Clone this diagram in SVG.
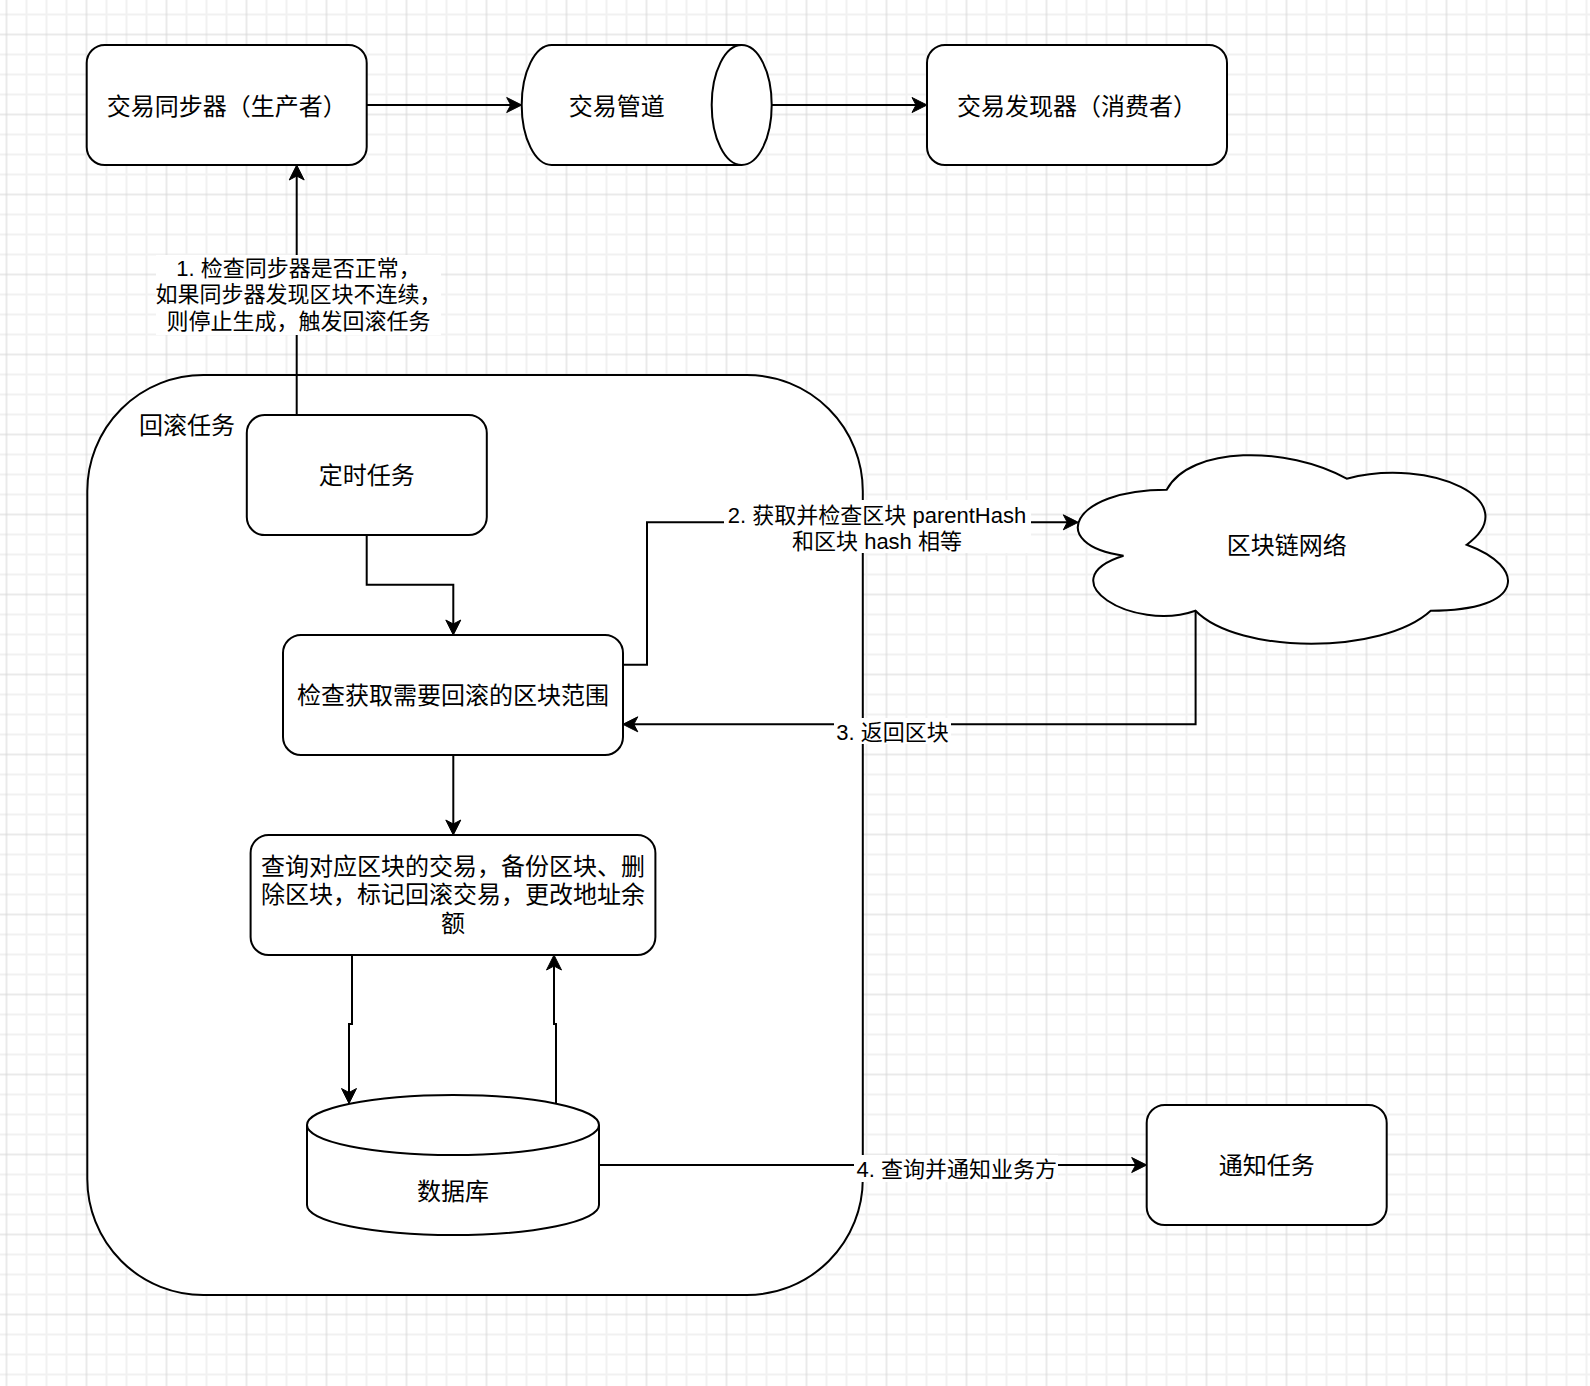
<svg xmlns="http://www.w3.org/2000/svg" width="1590" height="1386" viewBox="0 0 1590 1386">
  <defs>
    <pattern id="grid" x="-3.5" y="24.5" width="80" height="80" patternUnits="userSpaceOnUse">
      <rect width="80" height="80" fill="#ffffff"/>
      <path d="M30 0V80M50 0V80M70 0V80M0 30H80M0 50H80M0 70H80" stroke="#f1f1f1" stroke-width="2"/>
      <path d="M10 0V80M0 10H80" stroke="#d6d6d6" stroke-width="1"/>
    </pattern>
    <marker id="arr" markerUnits="userSpaceOnUse" viewBox="-17 -9 18 18" markerWidth="18" markerHeight="18" refX="-10" refY="0" orient="auto" overflow="visible">
      <path d="M0,0 L-15,-7.5 L-11,0 L-15,7.5 Z" fill="#000" stroke="#000" stroke-width="1" stroke-linejoin="miter"/>
    </marker>
    <style>
      .node { fill: #ffffff; stroke: #000000; stroke-width: 2; }
      .edge { fill: none; stroke: #000000; stroke-width: 2; marker-end: url(#arr); }
      .plain { fill: none; stroke: #000000; stroke-width: 2; }
      .lblbg { fill: #ffffff; stroke: none; }
      .t24 { font-family: "Liberation Sans", "Noto Sans CJK SC", sans-serif; font-size: 24px; fill: #000; text-anchor: middle; }
      .t22 { font-family: "Liberation Sans", "Noto Sans CJK SC", sans-serif; font-size: 22px; fill: #000; text-anchor: middle; }
    </style>
  </defs>

  <rect x="0" y="0" width="1590" height="1386" fill="url(#grid)"/>

  <g id="rollback-container">
    <rect class="node" x="87.3" y="375" width="775.5" height="920" rx="116" ry="116"/>
    <text class="t24" x="139" y="434" style="text-anchor:start">回滚任务</text>
  </g>

  <g id="tx-sync">
    <rect class="node" x="86.7" y="45" width="280" height="120" rx="18" ry="18"/>
    <text class="t24" x="226.7" y="114.5">交易同步器（生产者）</text>
  </g>

  <g id="tx-pipe">
    <path class="node" d="M551.7,45 L741.7,45 A30,60 0 0 1 741.7,165 L551.7,165 A30,60 0 0 1 551.7,45 Z"/>
    <path class="plain" d="M741.7,45 A30,60 0 0 0 741.7,165"/>
    <text class="t24" x="616.7" y="114.5">交易管道</text>
  </g>

  <g id="tx-discover">
    <rect class="node" x="927" y="45" width="300" height="120" rx="18" ry="18"/>
    <text class="t24" x="1077" y="114.5">交易发现器（消费者）</text>
  </g>

  <g id="timer-task">
    <rect class="node" x="246.8" y="415" width="240" height="120" rx="18" ry="18"/>
    <text class="t24" x="366.8" y="484">定时任务</text>
  </g>

  <g id="check-range">
    <rect class="node" x="283" y="635" width="340" height="120" rx="18" ry="18"/>
    <text class="t24" x="453" y="704">检查获取需要回滚的区块范围</text>
  </g>

  <g id="query-rollback">
    <rect class="node" x="250.6" y="835" width="404.8" height="120" rx="18" ry="18"/>
    <text class="t24" x="453" y="874.6">查询对应区块的交易，备份区块、删</text>
    <text class="t24" x="453" y="903.4">除区块，标记回滚交易，更改地址余</text>
    <text class="t24" x="453" y="932.2">额</text>
  </g>

  <g id="database">
    <path class="node" d="M307,1125 A146,30 0 0 1 599,1125 L599,1205 A146,30 0 0 1 307,1205 Z"/>
    <path class="plain" d="M307,1125 A146,30 0 0 0 599,1125"/>
    <text class="t24" x="453" y="1200">数据库</text>
  </g>

  <g id="blockchain">
    <path class="node" d="M1166.7,489.7 C1070.7,489.7 1046.7,544.7 1123.5,555.7 C1046.7,579.9 1133.1,632.7 1195.5,610.7 C1238.7,654.7 1382.7,654.7 1430.7,610.7 C1526.7,610.7 1526.7,566.7 1466.7,544.7 C1526.7,500.7 1430.7,456.7 1346.7,478.7 C1286.7,445.7 1190.7,445.7 1166.7,489.7 Z"/>
    <text class="t24" x="1286.7" y="554">区块链网络</text>
  </g>

  <g id="notify-task">
    <rect class="node" x="1146.7" y="1105" width="240" height="120" rx="18" ry="18"/>
    <text class="t24" x="1266.7" y="1174">通知任务</text>
  </g>

  <g id="connectors">
    <path class="edge" d="M366.7,105 L511.7,105"/>
    <path class="edge" d="M771.7,105 L917,105"/>
    <path class="edge" d="M296.7,415 L296.7,175"/>
    <path class="edge" d="M366.7,535 L366.7,584.7 L453.3,584.7 L453.3,625"/>
    <path class="edge" d="M623,664.7 L647,664.7 L647,522.3 L1068.3,522.3"/>
    <path class="edge" d="M1195.6,610.7 L1195.6,724.3 L632.8,724.3"/>
    <path class="edge" d="M453.3,755 L453.3,825"/>
    <path class="edge" d="M352,955 L352,1024 L349,1024 L349,1093.5"/>
    <path class="edge" d="M556,1103.7 L556,1024 L554,1024 L554,965"/>
    <path class="edge" d="M599,1165 L1136.7,1165"/>

    <g id="label-1">
      <rect class="lblbg" x="156" y="255" width="285" height="80"/>
      <text class="t22" x="298.5" y="275.8">1. 检查同步器是否正常，</text>
      <text class="t22" x="298.5" y="302.2">如果同步器发现区块不连续，</text>
      <text class="t22" x="298.5" y="328.6">则停止生成，触发回滚任务</text>
    </g>
    <g id="label-2">
      <rect class="lblbg" x="724" y="500" width="307" height="53"/>
      <text class="t22" x="877" y="523">2. 获取并检查区块 parentHash</text>
      <text class="t22" x="877" y="549.4">和区块 hash 相等</text>
    </g>
    <g id="label-3">
      <rect class="lblbg" x="834" y="718" width="117" height="26"/>
      <text class="t22" x="892.6" y="739.5">3. 返回区块</text>
    </g>
    <g id="label-4">
      <rect class="lblbg" x="854" y="1155" width="204" height="27"/>
      <text class="t22" x="956.8" y="1176.6">4. 查询并通知业务方</text>
    </g>
  </g>
</svg>
